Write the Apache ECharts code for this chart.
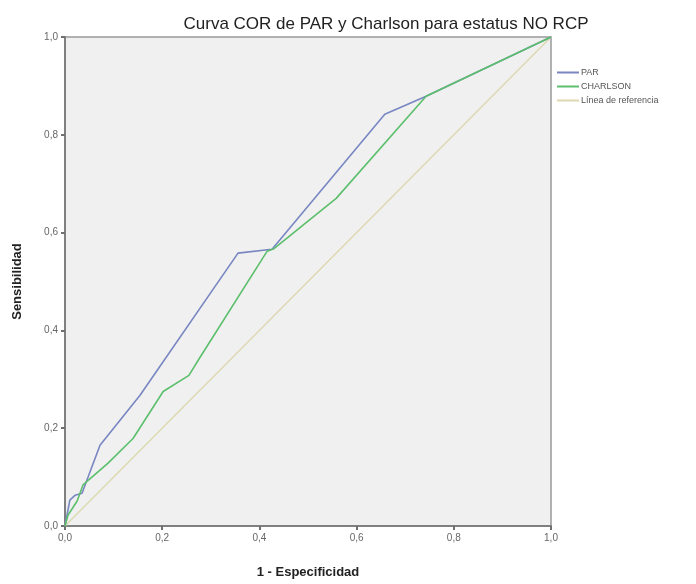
<!DOCTYPE html>
<html>
<head>
    <meta charset="UTF-8">
    <title>Curva COR</title>
    <script src="https://cdn.jsdelivr.net/npm/echarts@6/dist/echarts.min.js"></script>
    <style>
        html, body { margin: 0; padding: 0; background: #fff; }
        #chart { width: 696px; height: 584px; }
    </style>
</head>
<body>
<div id="chart"></div>
<script type="text/javascript">
    // valores (1 - especificidad, sensibilidad)
    let parX = [0, 0.005, 0.010, 0.021, 0.035, 0.072, 0.154, 0.356, 0.426, 0.658, 0.743, 1];
    let parY = [0, 0.027, 0.053, 0.063, 0.067, 0.165, 0.267, 0.558, 0.566, 0.842, 0.879, 1];

    let charlsonX = [0, 0.006, 0.025, 0.037, 0.088, 0.140, 0.202, 0.255, 0.276, 0.416, 0.430, 0.558, 0.743, 1];
    let charlsonY = [0, 0.022, 0.051, 0.084, 0.128, 0.179, 0.275, 0.308, 0.342, 0.562, 0.567, 0.670, 0.879, 1];

    let refX = [0, 1];
    let refY = [0, 1];

    let ticks = [0, 0.2, 0.4, 0.6, 0.8, 1.0];

    function pairs(xs, ys) {
        return xs.map(function (x, i) { return [x, ys[i]]; });
    }
    function fmt(v) {
        return v.toFixed(1).replace('.', ',');
    }

    let chart = echarts.init(document.getElementById('chart'));

    let axisCommon = {
        type: 'value',
        min: ticks[0],
        max: ticks[ticks.length - 1],
        interval: 0.2,
        axisLine: { show: true, lineStyle: { color: '#808080', width: 2 } },
        axisTick: { show: true, length: 4, lineStyle: { color: '#707070', width: 2 } },
        axisLabel: { color: '#666', fontSize: 10, fontFamily: 'Liberation Sans', formatter: fmt, margin: 7 },
        splitLine: { show: false },
        nameLocation: 'middle',
        nameTextStyle: { color: '#222', fontSize: 13, fontWeight: 'bold', fontFamily: 'Liberation Sans' }
    };

    let option = {
        animation: false,
        title: {
            text: 'Curva COR de PAR y Charlson para estatus NO RCP',
            left: 381,
            textAlign: 'center',
            top: 11,
            textStyle: { color: '#222', fontSize: 17, fontWeight: 'normal', fontFamily: 'Liberation Sans' }
        },
        legend: {
            orient: 'vertical',
            left: 552,
            top: 63,
            icon: 'rect',
            itemWidth: 22,
            itemHeight: 2,
            itemGap: 5,
            textStyle: { color: '#555', fontSize: 9, fontFamily: 'Liberation Sans', padding: [0, 0, 0, -3] },
            data: ['PAR', 'CHARLSON', 'Línea de referencia']
        },
        grid: {
            left: 65,
            right: 145,
            top: 37,
            bottom: 56,
            show: true,
            backgroundColor: '#f0f0f0',
            borderColor: '#999',
            borderWidth: 1.5
        },
        xAxis: Object.assign({}, axisCommon, {
            name: '1 - Especificidad',
            nameGap: 40
        }),
        yAxis: Object.assign({}, axisCommon, {
            name: 'Sensibilidad',
            nameGap: 41
        }),
        series: [
            {
                name: 'PAR',
                type: 'line',
                symbol: 'none',
                data: pairs(parX, parY),
                lineStyle: { color: '#7886c2', width: 1.6 },
                itemStyle: { color: '#7886c2' },
                z: 3
            },
            {
                name: 'CHARLSON',
                type: 'line',
                symbol: 'none',
                data: pairs(charlsonX, charlsonY),
                lineStyle: { color: '#5cbf6c', width: 1.6 },
                itemStyle: { color: '#5cbf6c' },
                z: 4
            },
            {
                name: 'Línea de referencia',
                type: 'line',
                symbol: 'none',
                data: pairs(refX, refY),
                lineStyle: { color: '#dcd8b0', width: 1.4 },
                itemStyle: { color: '#dcd8b0' },
                z: 2
            }
        ]
    };

    chart.setOption(option);
</script>
</body>
</html>
